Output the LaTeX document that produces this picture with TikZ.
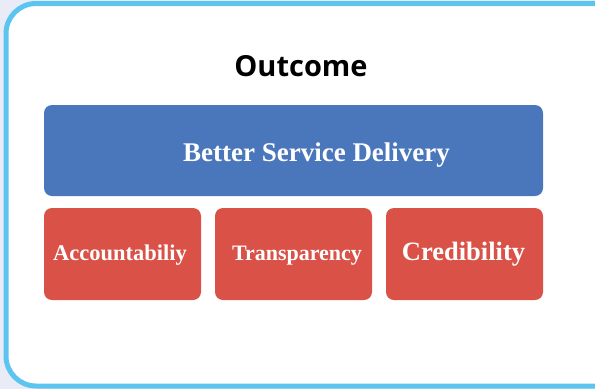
\documentclass[tikz,border=0pt]{standalone}
\usepackage{fontspec}
\setmainfont{Liberation Serif}
\newfontfamily\headfont{Open Sans}
\usepackage{tikz}
\usetikzlibrary{positioning}
\definecolor{pagebg}{HTML}{E9ECF6}
\definecolor{framecol}{HTML}{5BC4EF}
\definecolor{bluebox}{HTML}{4A76BB}
\definecolor{redbox}{HTML}{DA5247}
\tikzstyle{chart}=[
  x=1pt,y=-1pt,font=\bfseries
]
\tikzstyle{frame}=[
  draw=framecol,line width=5pt,fill=white,rounded corners=30pt
]
\tikzstyle{topbox}=[
  fill=bluebox,rounded corners=8pt,minimum width=499pt,minimum height=91pt,inner sep=0pt
]
\tikzstyle{valuebox}=[
  fill=redbox,rounded corners=8pt,minimum width=157pt,minimum height=92pt,inner sep=0pt
]
\tikzstyle{boxtext}=[
  text=white,inner sep=0pt,anchor=base
]

\begin{document}
\begin{tikzpicture}[chart]
    \useasboundingbox (0,0) rectangle (595,389);
    \fill [pagebg] (0,0) rectangle (595,389);
    \clip (0,0) rectangle (595,389);
    \draw [frame] (6,3.5) rectangle (625,386);
    \node (title) at (301,76) [inner sep=0pt,anchor=base] {\headfont\fontsize{29}{34}\selectfont\bfseries Outcome};
    \node (delivery) at (293.5,150.5) [topbox] {};
    \node (deliverytext) at (316.5,161) [boxtext] {\fontsize{27}{32}\selectfont Better Service Delivery};
    % lower row
    \node (account) at (122.5,254) [valuebox] {};
    \node (transp) at (293.5,254) [valuebox] {};
    \node (cred) at (464.5,254) [valuebox] {};
    \node (accounttext) at (120,260) [boxtext] {\fontsize{22.5}{27}\selectfont Accountabiliy};
    \node (transptext) at (297,260) [boxtext] {\fontsize{22}{26}\selectfont Transparency};
    \node (credtext) at (463.5,260) [boxtext] {\fontsize{26.5}{31}\selectfont Credibility};
\end{tikzpicture}
\end{document}
